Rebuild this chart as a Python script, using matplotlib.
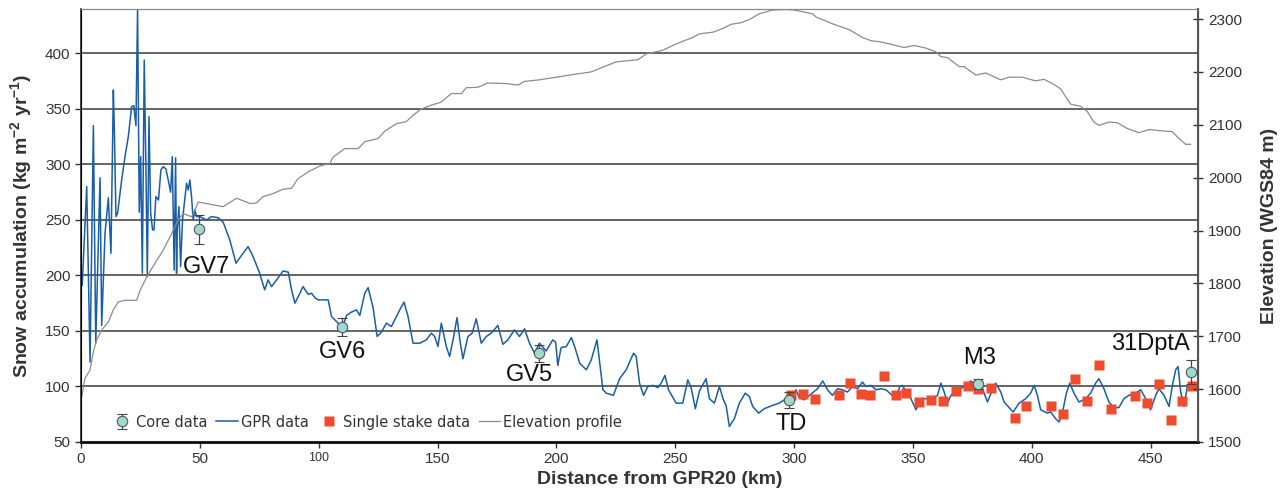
import matplotlib
matplotlib.use("Agg")
import matplotlib.pyplot as plt
import numpy as np

plt.rcParams['font.family'] = ['Liberation Sans', 'DejaVu Sans']
plt.rcParams['mathtext.fontset'] = 'custom'
plt.rcParams['mathtext.bf'] = 'Liberation Sans:bold'
plt.rcParams['mathtext.rm'] = 'Liberation Sans'
plt.rcParams['mathtext.default'] = 'bf'

# GPR accumulation profile (km, kg m-2 yr-1)
gpr_km = [0.5, 2.4, 3.8, 5.2, 6.2, 8.0, 8.7, 10.1, 11.5, 12.6, 13.6, 14.0, 14.7, 15.4, 17.1, 18.5,
          19.9, 21.3, 22.2, 23.1, 23.8, 24.5, 25.1, 25.8, 26.6, 27.3, 27.9, 28.6, 29.3, 30.1, 30.7,
          31.5, 32.6, 33.6, 34.6, 35.7, 36.7, 37.7, 38.4, 39.2, 39.8, 40.2, 40.5, 41.2, 41.9, 42.7,
          44.4, 45.1, 45.8, 46.5, 47.2, 47.9, 48.6, 50.0, 52.8, 54.9, 57.7, 59.8, 62.6, 65.2, 67.5,
          70.3, 72.4, 75.0,
          77.3, 78.7, 80.2, 82.3, 85.0, 87.2, 88.6, 90.0, 92.1, 93.4, 95.6, 97.0, 98.4, 99.8, 104.0,
          105.4, 108.2, 110.0, 111.7, 113.8, 115.9, 117.3, 119.4, 120.8, 122.9, 124.6, 126.4, 128.5,
          130.6, 132.7, 134.1, 135.9, 137.6, 139.7, 142.5, 145.3, 147.4, 148.8, 150.2, 151.6, 153.7,
          155.1, 156.8, 158.2, 159.6, 160.7, 162.8, 164.6, 166.3, 168.4, 170.5, 172.6, 175.4, 177.5,
          179.6, 182.4, 184.5, 186.6,
          188.7, 190.8, 192.9, 195.7, 198.5, 199.7, 200.6, 202.0, 204.2, 206.3, 207.7, 209.8, 212.6,
          214.7, 217.1, 219.6, 221.0, 224.0, 226.6, 229.4, 230.8, 232.5, 233.6, 235.0, 236.7, 238.5,
          240.6, 242.7, 244.1, 245.7, 247.2, 250.4, 253.2, 255.3, 256.7, 258.5, 260.2, 263.0, 264.4,
          266.5, 268.6, 270.3, 271.4, 272.8, 274.9, 277.0, 279.5, 281.2, 282.6, 285.1, 287.5, 291.0,
          293.8, 296.6, 298.0, 300.8,
          302.2, 304.3, 307.1, 309.9, 312.1, 314.1, 316.2, 318.3, 320.4, 322.5, 324.6, 326.7, 328.8,
          330.2, 332.4, 334.5, 336.6, 338.7, 340.8, 342.9, 344.5, 345.6, 347.8, 349.2, 351.3, 353.4,
          356.2, 358.3, 360.4, 361.8, 363.2, 364.6, 366.0, 368.1, 370.2, 372.3, 374.4, 377.2, 379.3,
          381.4, 383.5,
          384.9, 387.0, 388.4, 390.5, 392.2, 394.7, 397.5, 399.6, 401.0, 402.4, 403.8, 406.6, 408.0,
          410.1, 411.5, 412.9, 414.6, 416.0, 417.8, 419.9, 422.7, 424.8, 426.9, 428.3, 430.4, 432.5,
          434.6, 436.7, 438.8, 440.9, 443.7, 445.9, 448.0, 450.0, 452.2, 453.5, 455.7, 457.8, 459.2,
          460.6, 461.6, 462.7, 464.1, 465.5, 466.9, 469.0]
gpr_acc = [191, 280, 122, 335, 139, 288, 155, 238, 270, 220, 367, 334, 253, 256, 286, 307,
           325, 352, 353, 335, 440, 257, 307, 202, 394, 298, 199, 343, 256, 241, 241,
           271, 268, 295, 298, 296, 286, 275, 307, 205, 306, 202, 241, 262, 208, 250,
           283, 277, 286, 271, 250, 259, 253, 253, 250, 253, 252, 248, 232, 211, 218,
           226, 217, 203,
           187, 196, 190, 196, 204, 203, 187, 175, 184, 190, 183, 184, 180, 178, 178,
           163, 157, 153, 164, 167, 169, 164, 184, 189, 171, 145, 149, 157,
           154, 163, 169, 176, 163, 139, 139, 142, 148, 145, 136, 157, 136,
           127, 145, 162, 139, 125, 145, 148, 161, 139, 145, 148, 155, 138,
           142, 151, 145, 152,
           139, 130, 139, 132, 142, 140, 119, 135, 136, 144, 136, 121, 115,
           124, 142, 97, 94, 92, 107, 115, 122, 130, 127, 103, 92, 100,
           101, 99, 103, 110, 97, 85, 85, 106, 99, 80, 96, 107, 89,
           85, 100, 88, 83, 64, 71, 85, 94, 91, 82, 76, 80, 83,
           85, 89, 88, 97,
           90, 88, 93, 98, 105, 97, 92, 98, 97, 95, 100, 98, 104,
           100, 101, 97, 98, 97, 93, 89, 100, 101, 93, 89, 79, 89,
           89, 90, 92, 103, 95, 85, 92, 97, 98, 101, 105, 101, 98,
           86, 97,
           103, 95, 86, 81, 77, 85, 89, 94, 101, 92, 79, 76, 77,
           71, 68, 76, 94, 103, 94, 86, 89, 94, 103, 107, 98, 86,
           81, 81, 89, 92, 94, 97, 89, 79, 92, 98, 92, 82, 101,
           115, 118, 95, 82, 100, 103, 101]

# single stake measurements
stake_km = [298.7, 303.9, 308.8, 319.0, 323.5, 328.1, 331.9, 337.9, 342.9, 347.3, 352.7, 357.6,
            362.8, 368.1, 373.0, 377.6, 382.8, 393.0, 397.5, 408.3, 413.2, 418.1, 423.4, 428.3,
            433.5, 443.3, 448.6, 453.5, 458.5, 463.3, 467.6]
stake_acc = [92, 93, 89, 92, 103, 93, 92, 109, 92, 94, 86, 88,
             87, 96, 100, 98, 99, 72, 82, 82, 75, 107, 87, 119,
             80, 91, 85, 102, 70, 87, 100]

# firn cores
core_names = ['GV7', 'GV6', 'GV5', 'TD', 'M3', '31DptA']
core_km = [49.7, 110.0, 192.5, 298.0, 377.5, 466.9]
core_acc = [241.5, 153.3, 129.9, 87.8, 102.0, 113.3]
core_err = [13, 8, 7.5, 7, 4.5, 10.8]
label_km = [53.0, 110.1, 188.7, 299.0, 378.0, 450.0]
label_acc = [208, 131, 110, 66, 126, 138]

# elevation profile (m WGS84)
elev_km = [0, 1.7, 3.8, 5.2, 6.6, 8.7, 11.5, 13.6, 15.7, 18.5, 23.4, 24.6, 27.6, 31.1, 34.6,
           38.1, 40.9, 43.0, 46.5, 47.9, 49.3, 52.8, 59.8, 65.4, 69.6, 71.0, 73.8, 76.6, 80.8,
           85.0, 88.6, 91.3, 95.6, 100.5, 104.7, 106.1, 111.0, 116.6, 119.4, 125.0, 127.8, 132.7,
           136.9, 139.7, 143.2, 147.4, 151.6, 155.8, 160.0, 162.1, 167.0, 171.2, 178.9, 183.8,
           186.6, 192.9, 200.0, 206.9, 214.7, 219.6, 225.2, 234.3, 237.8, 244.8, 249.0, 253.2,
           257.4, 260.2, 265.8, 270.0, 273.5, 277.7, 281.2, 285.4, 291.0, 296.6, 300.1, 307.8,
           309.2, 316.2, 323.2, 328.8, 332.4, 335.9, 340.1, 346.4, 350.6, 355.5, 359.7, 361.8,
           364.6, 369.5, 371.6, 376.5, 380.7, 383.5, 387.0, 390.5, 396.1, 401.7, 405.2, 408.7,
           412.2, 414.3, 416.4, 420.6, 423.4, 426.2, 428.3, 432.5, 436.0, 440.2, 445.1, 449.4,
           453.6, 459.1, 462.0, 464.8, 466.9]
elev_m = [1578, 1621, 1636, 1671, 1693, 1712, 1727, 1750, 1765, 1768, 1768, 1784, 1812, 1838, 1863,
          1894, 1920, 1932, 1926, 1938, 1954, 1951, 1945, 1961, 1954, 1951, 1952, 1964, 1970,
          1978, 1980, 1998, 2011, 2022, 2027, 2039, 2055, 2055, 2068, 2074, 2088, 2102,
          2106, 2118, 2130, 2137, 2143, 2159, 2159, 2170, 2171, 2179, 2178, 2175,
          2182, 2185, 2190, 2195, 2200, 2209, 2219, 2223, 2234, 2241, 2250, 2258,
          2265, 2272, 2275, 2282, 2290, 2293, 2299, 2310, 2317, 2318, 2317, 2310,
          2304, 2291, 2280, 2265, 2259, 2257, 2253, 2246, 2250, 2245, 2238, 2229,
          2227, 2210, 2210, 2194, 2198, 2192, 2185, 2190, 2190, 2183, 2186, 2178,
          2168, 2153, 2139, 2135, 2125, 2105, 2099, 2105, 2104, 2093, 2085, 2091,
          2089, 2087, 2074, 2063, 2063]

x_ticks = [0, 50, 100, 150, 200, 250, 300, 350, 400, 450]
acc_ticks = [50, 100, 150, 200, 250, 300, 350, 400]
elev_ticks = [1500, 1600, 1700, 1800, 1900, 2000, 2100, 2200, 2300]

fig = plt.figure(figsize=(12.86, 4.91), dpi=100)
ax = fig.add_axes([0.063, 0.0998, 0.8686, 0.8819])
ax2 = ax.twinx()

gpr_line, = ax.plot(gpr_km, gpr_acc, color='#1a5ea8', lw=1.1, label='GPR data', zorder=3)
stakes, = ax.plot(stake_km, stake_acc, 's', color='#ef4b2f', ms=7, mec='none',
                  label='Single stake data', zorder=4)
cores = ax.errorbar(core_km, core_acc, yerr=core_err, fmt='o', ms=7.5, mfc='#9fd8cf',
                    mec='#555555', mew=0.8, ecolor='#444444', elinewidth=0.9, capsize=3.5,
                    label='Core data', zorder=5)
for name, xk, ya in zip(core_names, label_km, label_acc):
    ax.text(xk, ya, name, ha='center', va='center', fontsize=17, color='#111111', zorder=6)

elev_line, = ax2.plot(elev_km, elev_m, color='#8c8c8c', lw=0.9, label='Elevation profile')

ax.set_xlim(0, 470)
ax.set_ylim(50, 440)
ax2.set_ylim(1500, 2319)
ax.set_xticks(x_ticks)
ax.set_yticks(acc_ticks)
ax2.set_yticks(elev_ticks)
ax.yaxis.grid(True, color='#3a3a3a', lw=1.1)
ax.set_axisbelow(True)

ax.tick_params(axis='both', labelsize=11, colors='#333333', length=4, width=1)
ax2.tick_params(axis='y', labelsize=11, colors='#333333', direction='inout', length=7, width=1)
ax.get_xticklabels()[2].set_fontsize(9)

for sp in ['left', 'bottom']:
    ax.spines[sp].set_color('#2b2b2b')
ax.spines['left'].set_linewidth(1.2)
ax.spines['bottom'].set_linewidth(2.2)
ax2.spines['right'].set_color('#555555')
ax2.spines['right'].set_linewidth(1.5)
ax2.spines['top'].set_color('#888888')
ax.spines['top'].set_color('#888888')

ax.set_xlabel('Distance from GPR20 (km)', fontsize=14, fontweight='bold', color='#333333')
ax.xaxis.set_label_coords(0.518, -0.068)
ax.set_ylabel('Snow accumulation (kg m$^{-2}$ yr$^{-1}$)', fontsize=14, fontweight='bold',
              color='#333333', labelpad=8)
ax2.set_ylabel('Elevation (WGS84 m)', fontsize=14, fontweight='bold', color='#333333',
               labelpad=14)

leg = ax2.legend([cores, gpr_line, stakes, elev_line],
                 ['Core data', 'GPR data', 'Single stake data', 'Elevation profile'],
                 loc='center left', bbox_to_anchor=(0.022, 0.046), ncol=4, frameon=False,
                 prop={'family': 'DejaVu Sans', 'size': 10.5}, handlelength=1.5,
                 handletextpad=0.2, columnspacing=0.6, borderaxespad=0)
for t in leg.get_texts():
    t.set_color('#333333')

fig.savefig('out.png', dpi=100)
